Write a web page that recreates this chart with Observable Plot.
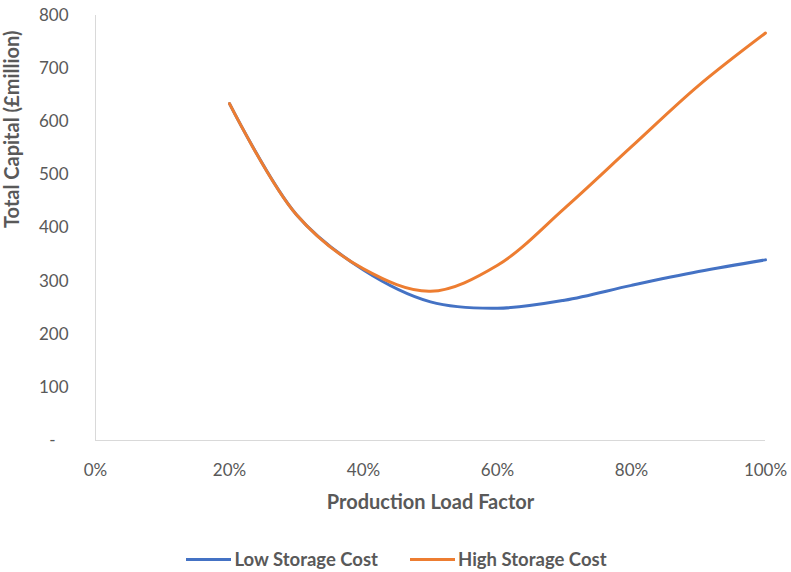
<!DOCTYPE html>
<html>
<head>
<meta charset="utf-8">
<script src="https://cdn.jsdelivr.net/npm/d3@7"></script>
<script src="https://cdn.jsdelivr.net/npm/@observablehq/plot@0.6"></script>
<style>
  body { margin: 0; background: #fff; font-family: Lato, "Open Sans", sans-serif; overflow: hidden; }
  #legend { display: flex; justify-content: center; align-items: center; gap: 32px; height: 24px; margin-top: 10px; margin-left: 2px; color: #595959; font-weight: bold; font-size: 18.5px; line-height: 22px; }
  #legend .item { display: flex; align-items: center; gap: 3px; }
  #legend .swatch { width: 45px; height: 3px; }
</style>
</head>
<body>
<div id="chart"></div>
<div id="legend"></div>
<script>
// Production load factor (fraction) and total capital (£ million) for each storage cost case
const loadFactor = [0.2, 0.3, 0.4, 0.5, 0.6, 0.7, 0.8, 0.9, 1.0];
const lowStorageCost = [634, 425, 321, 261, 249, 264, 292, 318, 340];
const highStorageCost = [634, 425, 323, 281, 330, 437, 553, 668, 767];

const seriesNames = ["Low Storage Cost", "High Storage Cost"];
const seriesColors = ["#4472C4", "#ED7D31"];
const xTicks = [0, 0.2, 0.4, 0.6, 0.8, 1.0];
const yTicks = [0, 100, 200, 300, 400, 500, 600, 700, 800];

const rows = [
  ...loadFactor.map((x, i) => ({x, y: lowStorageCost[i], series: seriesNames[0]})),
  ...loadFactor.map((x, i) => ({x, y: highStorageCost[i], series: seriesNames[1]}))
];

const yFormat = d => d === 0 ? "-\u00a0\u00a0\u00a0" : d;

const chart = Plot.plot({
  width: 791,
  height: 537,
  marginLeft: 95,
  marginRight: 26,
  marginTop: 15,
  marginBottom: 97,
  style: {fontFamily: "Lato, 'Open Sans', sans-serif", fontSize: "17px", color: "#595959", background: "#fff"},
  x: {domain: [0, 1], label: null},
  y: {domain: [0, 800], label: null},
  color: {domain: seriesNames, range: seriesColors},
  marks: [
    Plot.ruleX([0], {stroke: "#d9d9d9", strokeWidth: 1}),
    Plot.ruleY([0], {stroke: "#d9d9d9", strokeWidth: 1}),
    Plot.line(rows, {x: "x", y: "y", z: "series", stroke: "series", strokeWidth: 3, curve: "catmull-rom"}),
    Plot.axisX({ticks: xTicks, tickFormat: d3.format(".0%"), tickSize: 0, tickPadding: 23, label: null, fontSize: 17}),
    Plot.axisY({ticks: yTicks, tickFormat: yFormat, tickSize: 0, tickPadding: 27, label: null, fontSize: 17}),
    Plot.text(["Production Load Factor"], {frameAnchor: "bottom", dy: 68, fontWeight: "bold", fontSize: 20, fill: "#595959"}),
    Plot.text(["Total Capital (£million)"], {frameAnchor: "left", dx: -83, rotate: -90, fontWeight: "bold", fontSize: 20, fill: "#595959"})
  ]
});
document.getElementById("chart").appendChild(chart);

const legend = document.getElementById("legend");
seriesNames.forEach((name, i) => {
  const item = document.createElement("div");
  item.className = "item";
  const sw = document.createElement("div");
  sw.className = "swatch";
  sw.style.background = seriesColors[i];
  const label = document.createElement("span");
  label.textContent = name;
  item.appendChild(sw);
  item.appendChild(label);
  legend.appendChild(item);
});
</script>
</body>
</html>
